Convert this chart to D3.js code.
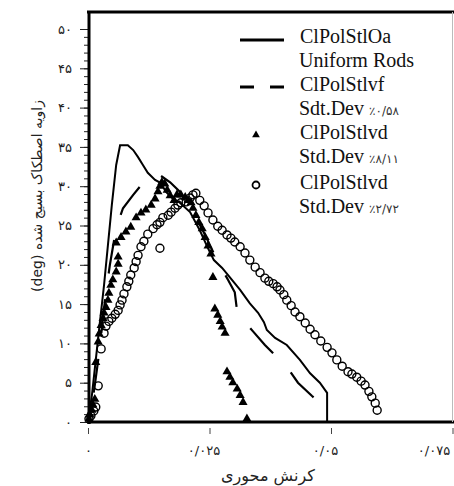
<!DOCTYPE html>
<html><head><meta charset="utf-8">
<script src="https://cdn.jsdelivr.net/npm/d3@7"></script>
<style>body{margin:0;background:#fff}svg{display:block}</style>
</head><body>
<svg id="c" width="454" height="486"></svg>
<script>
// ---- data (axial strain, mobilized friction angle in deg) ----
const solidStrain=[0,0.0008,0.0016,0.0025,0.0033,0.0041,0.0049,0.0058,0.0066,0.0082,0.0093,0.0103,0.0113,0.0123,0.0138,0.0150,0.0160,0.0173,0.0189,0.0210,0.0230,0.0247,0.0259,0.0276,0.0292,0.0313,0.0333,0.0350,0.0362,0.0368,0.0385,0.0409,0.0436,0.0457,0.0477,0.0492,0.0492];
const solidAngle=[0,3.4,7.9,13.0,17.4,22.5,27.6,32.7,35.2,35.2,34.6,33.7,32.7,31.7,30.8,30.4,29.3,28.5,27.9,26.7,24.4,22.1,20.6,19.6,18.4,16.8,15.1,13.9,12.7,11.7,10.7,9.8,7.9,6.2,5.0,3.7,0];

const dashStrain=[0,0.0008,0.0014,0.0021,0.0027,0.0035,0.0045,0.0058,0.0072,0.0093,0.0113,0.0132,0.0148,0.0169,0.0189,0.0214,0.0241,0.0267,0.0288,0.0302,0.0307,0.0323,0.0340,0.0364,0.0391,0.0416,0.0432,0.0461,0.0488];
const dashAngle=[0,2.2,4.7,7.9,11.1,15.5,20.0,24.7,27.2,28.9,30.4,31.3,31.4,30.5,29.3,27.0,23.8,20.4,18.1,16.5,14.0,12.7,11.5,9.8,8.1,6.4,5.0,3.3,1.8];

const triStrain=[0.0002,0.0004,0.0008,0.0010,0.0014,0.0016,0.0021,0.0023,0.0027,0.0031,0.0033,0.0037,0.0041,0.0043,0.0047,0.0051,0.0058,0.0062,0.0062,0.0058,0.0068,0.0078,0.0088,0.0099,0.0109,0.0119,0.0130,0.0138,0.0144,0.0148,0.0152,0.0158,0.0163,0.0169,0.0177,0.0183,0.0191,0.0200,0.0206,0.0212,0.0216,0.0222,0.0228,0.0235,0.0241,0.0247,0.0253,0.0257,0.0261,0.0267,0.0272,0.0276,0.0282,0.0286,0.0292,0.0298,0.0307,0.0313,0.0319,0.0327];
const triAngle=[0.4,0.9,1.5,2.2,2.9,7.6,10.2,11.2,12.3,13.2,13.9,14.6,15.5,16.4,17.4,18.1,19.1,20.1,21.0,22.8,23.5,24.2,24.8,26.0,26.6,27.0,27.6,28.4,29.3,30.0,30.5,30.3,29.5,28.8,28.2,28.9,28.9,28.6,28.2,27.9,27.2,26.3,25.4,24.6,23.5,22.4,21.4,18.4,14.4,13.6,12.8,12.1,11.3,6.4,5.7,5.0,4.2,3.4,2.5,0.4];

const circStrain=[0.0002,0.0006,0.0012,0.0016,0.0021,0.0027,0.0033,0.0037,0.0043,0.0049,0.0056,0.0062,0.0066,0.0070,0.0074,0.0080,0.0084,0.0088,0.0095,0.0099,0.0103,0.0109,0.0115,0.0123,0.0134,0.0142,0.0148,0.0154,0.0165,0.0171,0.0179,0.0185,0.0191,0.0202,0.0210,0.0216,0.0222,0.0230,0.0239,0.0247,0.0257,0.0267,0.0276,0.0286,0.0294,0.0302,0.0313,0.0323,0.0333,0.0344,0.0354,0.0364,0.0372,0.0381,0.0389,0.0395,0.0403,0.0409,0.0418,0.0426,0.0436,0.0447,0.0457,0.0467,0.0479,0.0492,0.0502,0.0512,0.0523,0.0535,0.0543,0.0553,0.0562,0.0570,0.0578,0.0584,0.0591,0.0595,0.0148];
const circAngle=[0.4,0.8,1.4,1.9,4.6,9.3,11.3,12.2,12.8,13.2,13.7,14.2,14.9,15.5,16.3,17.2,17.9,18.7,19.6,20.4,21.2,22.3,23.0,23.9,24.6,25.1,25.4,26.0,26.3,26.7,27.2,27.6,27.9,28.0,28.5,28.9,29.1,28.2,27.5,26.6,25.7,24.9,24.4,23.8,23.4,22.9,22.3,21.5,20.6,19.7,19.0,18.3,17.9,17.6,17.2,16.8,16.2,15.5,14.8,14.0,13.4,12.6,11.8,11.1,10.3,9.5,8.8,7.9,7.1,6.4,6.1,5.7,5.2,4.7,3.9,3.2,2.4,1.5,22.1];

const yTickValues=[0,5,10,15,20,25,30,35,40,45,50];
const yTickLabels=["۰","۵","۱۰","۱۵","۲۰","۲۵","۳۰","۳۵","۴۰","۴۵","۵۰"];
const xTickValues=[0,0.025,0.05,0.075];
const xTickLabels=["۰","۰/۰۲۵","۰/۰۵","۰/۰۷۵"];

const legendNames=["ClPolStlOa","ClPolStlvf","ClPolStlvd","ClPolStlvd"];
const legendSub=[["Uniform Rods",""],["Sdt.Dev ","٪۰/۵۸"],["Std.Dev ","٪۸/۱۱"],["Std.Dev ","٪۲/۷۲"]];

const xTitle="کرنش محوری";
const yTitle="زاویه اصطکاک بسیج شده (deg)";

// ---- layout ----
const svg=d3.select("#c");
const L=88,R=452.5,T=12,B=422;
const x=d3.scaleLinear().domain([0,0.075]).range([L,R]);
const y=d3.scaleLinear().domain([0,50]).range([B,29]);
const fa="'DejaVu Sans', sans-serif";

// minor y ticks
const gMinor=svg.append("g").attr("transform",`translate(${L},0)`)
  .call(d3.axisLeft(y).tickValues(d3.range(0,51,1)).tickSize(4).tickFormat(""));
gMinor.select(".domain").remove();
gMinor.selectAll("line").attr("stroke","#222");
// major y ticks
const gy=svg.append("g").attr("transform",`translate(${L},0)`)
  .call(d3.axisLeft(y).tickValues(yTickValues).tickSize(8).tickPadding(8)
  .tickFormat((d,i)=>yTickLabels[i]));
gy.select(".domain").remove();
gy.selectAll("line").attr("stroke","#222");
gy.selectAll("text").attr("font-family",fa).attr("font-size",13).attr("fill","#222");

// x ticks (detached below axis)
const gx=svg.append("g").attr("transform",`translate(0,${B+6})`)
  .call(d3.axisBottom(x).tickValues(xTickValues).tickSize(6).tickPadding(12)
  .tickFormat((d,i)=>xTickLabels[i]));
gx.select(".domain").remove();
gx.selectAll("line").attr("stroke","#444");
gx.selectAll("text").attr("font-family",fa).attr("font-size",13).attr("fill","#222")
  .attr("dx",(d,i)=>i===0?0:(i===3?-19:-6));

// frame
svg.append("line").attr("x1",L-1).attr("x2",454).attr("y1",T).attr("y2",T).attr("stroke","#000").attr("stroke-width",3);
svg.append("line").attr("x1",L+1).attr("x2",L+1).attr("y1",T-1).attr("y2",B+2).attr("stroke","#000").attr("stroke-width",3);
svg.append("line").attr("x1",L-1).attr("x2",454).attr("y1",B).attr("y2",B).attr("stroke","#000").attr("stroke-width",3);
svg.append("line").attr("x1",452.5).attr("x2",452.5).attr("y1",T).attr("y2",B).attr("stroke","#bbb").attr("stroke-width",1);

// titles
svg.append("text").attr("x",268).attr("y",481).attr("text-anchor","middle").attr("direction","rtl")
  .attr("font-family",fa).attr("font-size",16).attr("fill","#222").text(xTitle);
svg.append("text").attr("transform","translate(42,196) rotate(-90)").attr("text-anchor","middle")
  .attr("direction","rtl").style("unicode-bidi","embed")
  .attr("font-family",fa).attr("font-size",14).attr("fill","#222").text(yTitle);

// series
const line=d3.line().x(d=>x(d[0])).y(d=>y(d[1]));
const plot=svg.append("g");
plot.append("path").datum(d3.zip(solidStrain,solidAngle)).attr("d",line)
  .attr("fill","none").attr("stroke","#000").attr("stroke-width",2);
plot.append("path").datum(d3.zip(dashStrain,dashAngle)).attr("d",line)
  .attr("fill","none").attr("stroke","#000").attr("stroke-width",2.2)
  .attr("stroke-dasharray","34,26").attr("stroke-dashoffset",-150);
const tri=d3.symbol().type(d3.symbolTriangle).size(36);
plot.selectAll("path.tri").data(d3.zip(triStrain,triAngle)).join("path").attr("class","tri")
  .attr("d",tri).attr("transform",d=>`translate(${x(d[0])},${y(d[1])})`).attr("fill","#000");
plot.selectAll("circle.c").data(d3.zip(circStrain,circAngle)).join("circle").attr("class","c")
  .attr("cx",d=>x(d[0])).attr("cy",d=>y(d[1])).attr("r",4)
  .attr("fill","none").attr("stroke","#000").attr("stroke-width",1.4);

// legend
const lg=svg.append("g");
const serif="'Liberation Serif', serif";
const base=[43,91,139,189];
base.forEach((b,i)=>{
  lg.append("text").attr("x",300).attr("y",b).attr("font-family",serif).attr("font-size",20).attr("fill","#111").text(legendNames[i]);
  const t=lg.append("text").attr("x",299).attr("y",b+24.3).attr("font-family",serif).attr("font-size",20).attr("fill","#111");
  t.append("tspan").text(legendSub[i][0]);
  if(legendSub[i][1]) t.append("tspan").attr("font-family",fa).attr("font-size",12).attr("fill","#333").text(legendSub[i][1]);
});
lg.append("line").attr("x1",240).attr("x2",284).attr("y1",40).attr("y2",40).attr("stroke","#000").attr("stroke-width",3);
lg.append("line").attr("x1",240).attr("x2",285).attr("y1",87).attr("y2",87).attr("stroke","#000").attr("stroke-width",3).attr("stroke-dasharray","14,16");
lg.append("path").attr("d",d3.symbol().type(d3.symbolTriangle).size(26)).attr("transform","translate(256,135)").attr("fill","#000");
lg.append("circle").attr("cx",256).attr("cy",185).attr("r",3.5).attr("fill","none").attr("stroke","#000").attr("stroke-width",1.8);
</script>
</body></html>
